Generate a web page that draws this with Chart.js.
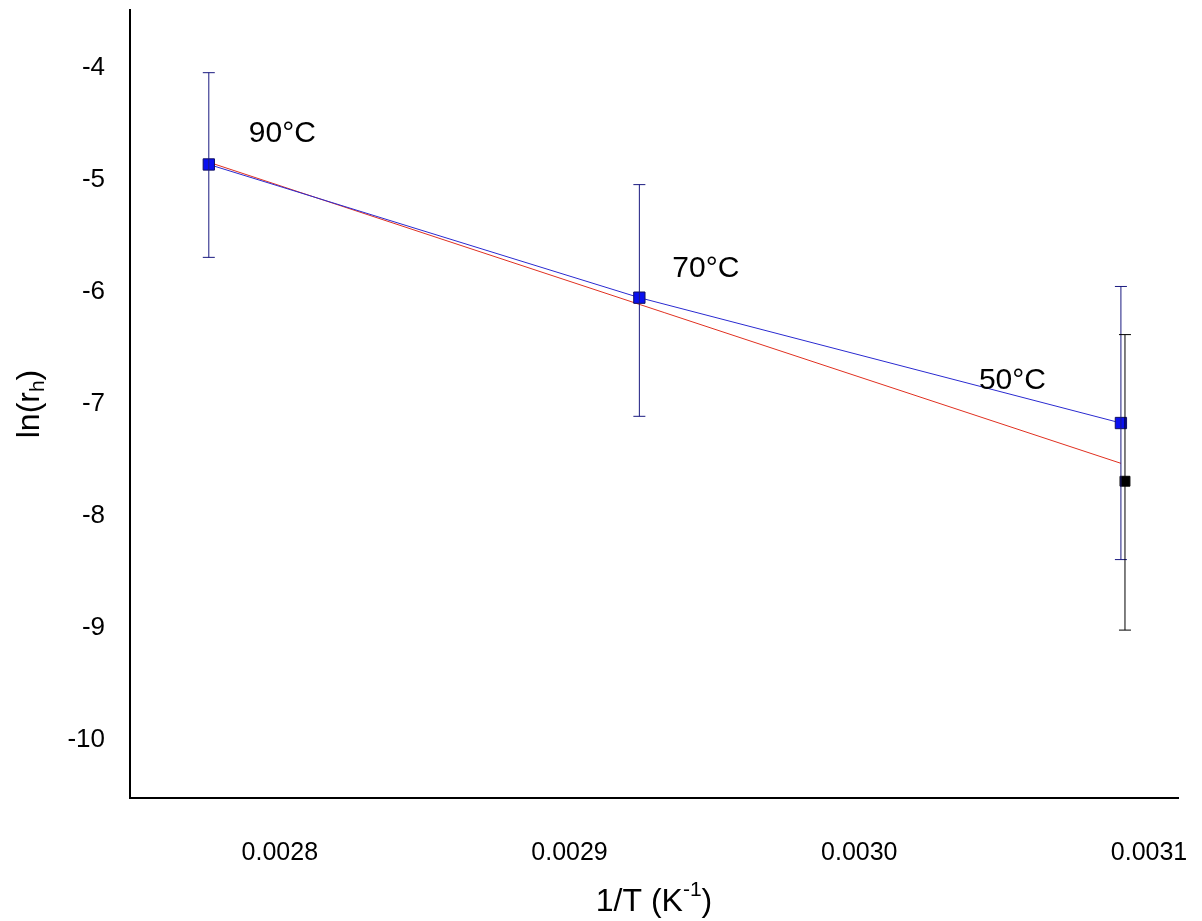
<!DOCTYPE html>
<html>
<head>
<meta charset="utf-8">
<script src="https://cdn.jsdelivr.net/npm/chart.js@4"></script>
<style>body{margin:0;background:#fff}</style>
</head>
<body>
<canvas id="arrhenius" width="1202" height="921"></canvas>
<script>
// data
const invT = [0.0027755, 0.0029241, 0.0030903]
const lnBlue = [-4.86, -6.05, -7.17]
const blueErrTop = [-4.04, -5.04, -5.95]
const blueErrBottom = [-5.69, -7.11, -8.39]
const blackPoint = { x: 0.0030917, y: -7.69 }
const blackErr = [-6.38, -9.02]
const redFit = [-4.84, -7.53]
const tempLabels = ['90°C', '70°C', '50°C']
const xTicks = [0.0028, 0.0029, 0.0030, 0.0031]

const blueLine = invT.map((x, i) => ({ x: x, y: lnBlue[i] }))
const redLine = [{ x: invT[0], y: redFit[0] }, { x: invT[2], y: redFit[1] }]

const font = '"Liberation Sans Narrow", "Arial Narrow", Arial, sans-serif'
const font2 = 'Arial, "Liberation Sans", sans-serif'

const extras = {
    id: 'extras',
    afterDatasetsDraw(chart) {
        const ctx = chart.ctx
        const xs = chart.scales.x, ys = chart.scales.y
        const bar = (x, top, bottom, color) => {
            const px = xs.getPixelForValue(x)
            const t = ys.getPixelForValue(top), b = ys.getPixelForValue(bottom)
            ctx.strokeStyle = color
            ctx.lineWidth = 1
            ctx.beginPath()
            ctx.moveTo(px, t); ctx.lineTo(px, b)
            ctx.moveTo(px - 6, t); ctx.lineTo(px + 6, t)
            ctx.moveTo(px - 6, b); ctx.lineTo(px + 6, b)
            ctx.stroke()
        }
        ctx.save()
        invT.forEach((x, i) => bar(x, blueErrTop[i], blueErrBottom[i], '#1a1a80'))
        bar(blackPoint.x, blackErr[0], blackErr[1], '#000')

        ctx.fillStyle = '#000'
        ctx.font = '30px ' + font2
        ctx.textBaseline = 'middle'
        ctx.textAlign = 'left'
        const offs = [[40, -31], [33, -29], [-142, -42]]
        invT.forEach((x, i) => {
            ctx.fillText(tempLabels[i], xs.getPixelForValue(x) + offs[i][0], ys.getPixelForValue(lnBlue[i]) + offs[i][1])
        })

        // x axis title 1/T (K^-1)
        let parts = [['1/T (K', 32, 0], ['-1', 21, -12], [')', 32, 0]]
        let w = 0
        parts.forEach(p => { ctx.font = p[1] + 'px ' + font; w += ctx.measureText(p[0]).width })
        let cx = 654 - w / 2
        parts.forEach(p => {
            ctx.font = p[1] + 'px ' + font
            ctx.fillText(p[0], cx, 902 + p[2])
            cx += ctx.measureText(p[0]).width
        })

        // y axis title ln(r_h)
        ctx.translate(30, 404)
        ctx.rotate(-Math.PI / 2)
        parts = [['ln(r', 32, 0], ['h', 21, 8], [')', 32, 0]]
        w = 0
        parts.forEach(p => { ctx.font = p[1] + 'px ' + font; w += ctx.measureText(p[0]).width })
        cx = -w / 2
        parts.forEach(p => {
            ctx.font = p[1] + 'px ' + font
            ctx.fillText(p[0], cx, p[2])
            cx += ctx.measureText(p[0]).width
        })
        ctx.restore()
    }
}

new Chart(document.getElementById('arrhenius'), {
    type: 'scatter',
    data: {
        datasets: [
            {
                data: redLine, showLine: true, borderColor: '#e03020', borderWidth: 1,
                pointRadius: 0, order: 3
            },
            {
                data: blueLine, showLine: true, borderColor: '#2a2ad0', borderWidth: 1,
                pointStyle: 'rect', pointRadius: 8, backgroundColor: '#0a10f0',
                pointBorderColor: '#101060', pointBorderWidth: 1, order: 1
            },
            {
                data: [blackPoint], pointStyle: 'rect', pointRadius: 7,
                backgroundColor: '#000', borderColor: '#000', order: 2
            }
        ]
    },
    options: {
        responsive: false,
        animation: false,
        layout: { padding: { top: 10, right: 24, left: 0, bottom: 0 } },
        plugins: { legend: { display: false }, tooltip: { enabled: false } },
        scales: {
            x: {
                type: 'linear', min: 0.0027483, max: 0.00311,
                grid: { display: false },
                border: { color: '#000', width: 2 },
                afterBuildTicks: s => { s.ticks = xTicks.map(v => ({ value: v })) },
                afterFit: s => { s.height = 123; s.paddingLeft = 0; s.paddingRight = 0 },
                ticks: { padding: 32, color: '#000', font: { size: 25, family: font }, callback: v => v.toFixed(4) }
            },
            y: {
                min: -10.52, max: -3.48,
                grid: { display: false },
                border: { color: '#000', width: 2 },
                afterBuildTicks: s => { s.ticks = [-10, -9, -8, -7, -6, -5, -4].map(v => ({ value: v })) },
                afterFit: s => { s.width = 130; s.paddingTop = 0; s.paddingBottom = 0 },
                ticks: { padding: 17, color: '#000', font: { size: 26, family: font } }
            }
        }
    },
    plugins: [extras]
})
</script>
</body>
</html>
